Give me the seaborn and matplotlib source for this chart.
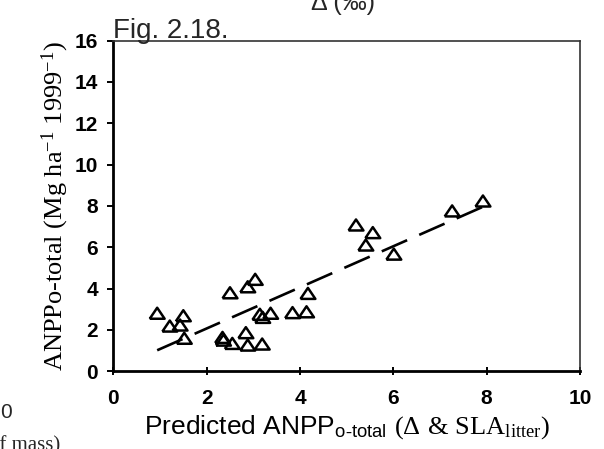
import numpy as np
import pandas as pd
import matplotlib
matplotlib.use("Agg")
import matplotlib.pyplot as plt
import seaborn as sns

# Predicted vs observed ANPP (Mg ha-1 1999-1)
predicted = [0.94, 1.21, 1.43, 1.50, 1.52, 2.34, 2.36, 2.50, 2.55, 2.88, 2.84, 2.88, 3.04,
             3.14, 3.20, 3.19, 3.37, 3.84, 4.14, 4.17, 5.20, 5.56, 5.41, 6.01, 7.26, 7.92]
observed = [2.81, 2.19, 2.24, 2.69, 1.60, 1.64, 1.51, 3.80, 1.35, 4.09, 1.87, 1.27, 4.45,
            2.76, 2.61, 1.32, 2.81, 2.84, 2.88, 3.77, 7.08, 6.71, 6.11, 5.67, 7.76, 8.24]
x_ticks = [0, 2, 4, 6, 8, 10]
y_ticks = [0, 2, 4, 6, 8, 10, 12, 14, 16]

df = pd.DataFrame({"predicted": predicted, "observed": observed})

sns.set_theme(style="ticks")
plt.rcParams["font.family"] = ["Liberation Sans", "DejaVu Sans"]
plt.rcParams["mathtext.fontset"] = "custom"
plt.rcParams["mathtext.rm"] = "Liberation Serif"
plt.rcParams["mathtext.it"] = "Liberation Serif:italic"
plt.rcParams["mathtext.sf"] = "Liberation Sans"

fig = plt.figure(figsize=(6.04, 4.49), dpi=100)
ax = fig.add_axes([0.1876, 0.173, 0.7727, 0.7366])

# open triangles, a bit flatter than matplotlib's '^'
tri = [(-1, -0.74), (1, -0.74), (0, 0.74), (-1, -0.74)]
sns.scatterplot(data=df, x="predicted", y="observed", marker=tri, s=115,
                facecolors="none", edgecolors="black", linewidth=1.8, ax=ax, zorder=3)

# dashed regression line over the data range
sns.regplot(data=df, x="predicted", y="observed", scatter=False, ci=None, truncate=True,
            color="black", line_kws=dict(lw=1.9, ls=(0, (10.5, 5))), ax=ax)

ax.set_xlim(0, 10)
ax.set_ylim(0, 16)
ax.set_xticks(x_ticks)
ax.set_yticks(y_ticks)
ax.tick_params(axis="y", direction="out", length=4, width=1.4, pad=7, labelsize=15,
               colors="black")
ax.tick_params(axis="x", direction="inout", length=6, width=1.4, pad=10, labelsize=15,
               colors="black")
for lab in ax.get_xticklabels() + ax.get_yticklabels():
    lab.set_fontweight("bold")

for side in ["left", "bottom"]:
    ax.spines[side].set_linewidth(2)
    ax.spines[side].set_color("black")
for side in ["top", "right"]:
    ax.spines[side].set_visible(True)
    ax.spines[side].set_linewidth(1.2)
    ax.spines[side].set_color("#333333")

xlabel_options = [
    r"Predicted ANPP$_{\mathsf{o\text{-}total}}$ $(\Delta$ $\mathrm{&}$ $\mathrm{SLA}_{\mathrm{litter}})$",
    r"Predicted ANPP$_{\mathsf{o-total}}$ $(\Delta$ & $\mathrm{SLA}_{\mathrm{litter}})$",
    "Predicted ANPP o-total (Δ & SLA litter)",
]
for lab in xlabel_options:
    ax.set_xlabel(lab, fontsize=19, color="black")
    try:
        fig.canvas.draw()
        break
    except ValueError:
        continue

ax.set_ylabel(r"ANPPo-total (Mg ha$^{-1}$ 1999$^{-1}$)",
              fontsize=19, family="Liberation Serif", color="black")
ax.xaxis.set_label_coords(0.5, -0.125)
ax.yaxis.set_label_coords(-0.09, 0.5)

# figure caption and scan remnants from neighbouring panels
fig.text(0.1876, 1 - 38 / 449, "Fig. 2.18.", fontsize=20, ha="left", va="baseline")
fig.text(343 / 604, 1 - 10 / 449, "Δ (‰)", fontsize=18, ha="center", va="baseline")
fig.text(0.0, 1 - 418 / 449, "0", fontsize=15, ha="left", va="baseline")
fig.text(60 / 604, -0.004, "of mass)", fontsize=15, family="Liberation Serif",
         ha="right", va="baseline")

fig.savefig("out.png", dpi=100, facecolor="white")
